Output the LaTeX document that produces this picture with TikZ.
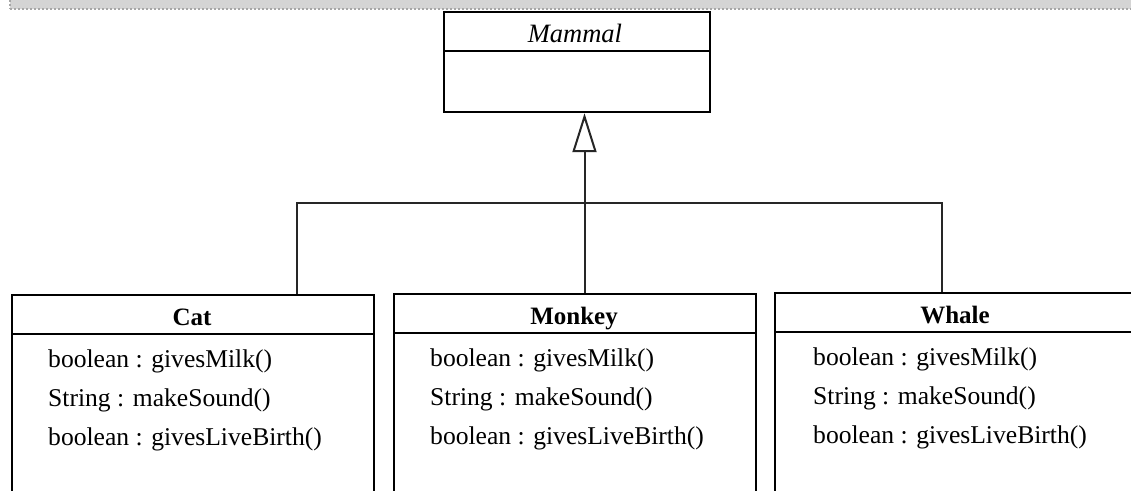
\documentclass[tikz,border=0pt]{standalone}
\usepackage{fontspec}
\setmainfont{Liberation Serif}
\usetikzlibrary{arrows.meta,calc}
\begin{document}
\begin{tikzpicture}[x=1pt,y=-1pt,
  classbox/.style={draw=black,line width=2.2pt,rectangle,inner sep=0pt,minimum width=362pt,minimum height=230pt,anchor=north west},
  divider/.style={line width=2.2pt},
  title/.style={font=\fontsize{25}{30}\selectfont\bfseries,anchor=base,inner sep=0pt},
  attr/.style={font=\fontsize{25.6}{30}\selectfont,anchor=base west,inner sep=0pt},
  link/.style={draw=black!85,line width=2pt},
  inherit/.style={link,-{Triangle[open,length=39pt,width=24pt,line width=2pt]}}]
\useasboundingbox (0,0) rectangle (1131,490);
\fill[white] (0,0) rectangle (1131,490);
\clip (0,0) rectangle (1131,490);
% top grey band
\fill[black!17] (10,0) rectangle (1131,9);
\draw[black!35,line width=2pt,dash pattern=on 2pt off 2pt] (10,8.5) -- (1131,8.5);
\draw[black!35,line width=2pt,dash pattern=on 2pt off 2pt] (10,0) -- (10,8.5);
% Mammal
\node[draw=black,line width=2.2pt,rectangle,inner sep=0pt,minimum width=266pt,minimum height=100pt,anchor=north west] (mammal) at (443,11) {};
\draw[divider] ($(mammal.north west)+(0,40)$) -- ($(mammal.north east)+(0,40)$);
\node[font=\fontsize{26.5}{30}\selectfont\itshape,anchor=base,inner sep=0pt] (mammalt) at (575,42) {Mammal};
% Cat
\node[classbox] (cat) at (11,294) {};
\draw[divider] ($(cat.north west)+(0,40)$) -- ($(cat.north east)+(0,40)$);
\node[title] (catt) at (192,325) {Cat};
\node[attr] (cat1) at (48,367) {boolean : givesMilk()};
\node[attr] (cat2) at (48,406) {String : makeSound()};
\node[attr] (cat3) at (48,445) {boolean : givesLiveBirth()};
% Monkey
\node[classbox] (monkey) at (393,293) {};
\draw[divider] ($(monkey.north west)+(0,40)$) -- ($(monkey.north east)+(0,40)$);
\node[title] (monkeyt) at (574,324) {Monkey};
\node[attr] (mon1) at (430,366) {boolean : givesMilk()};
\node[attr] (mon2) at (430,405) {String : makeSound()};
\node[attr] (mon3) at (430,444) {boolean : givesLiveBirth()};
% Whale
\node[classbox] (whale) at (774,292) {};
\draw[divider] ($(whale.north west)+(0,40)$) -- ($(whale.north east)+(0,40)$);
\node[title] (whalet) at (955,323) {Whale};
\node[attr] (wh1) at (813,365) {boolean : givesMilk()};
\node[attr] (wh2) at (813,404) {String : makeSound()};
\node[attr] (wh3) at (813,443) {boolean : givesLiveBirth()};
% connectors
\coordinate (jcat) at (297,203);
\coordinate (jmon) at (584.5,203);
\coordinate (jwh) at (942,203);
\draw[link] (cat.north west -| jcat) -- (jcat) -- (jwh) -- (whale.north west -| jwh);
\draw[link] (monkey.north west -| jmon) -- (jmon);
\draw[inherit] (jmon) -- (mammal.south -| jmon);
\end{tikzpicture}
\end{document}
